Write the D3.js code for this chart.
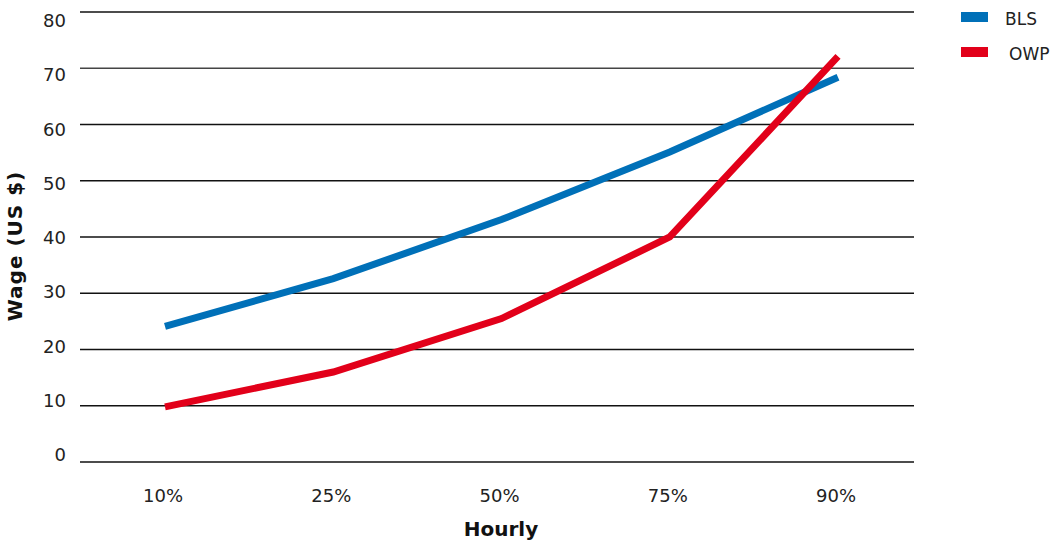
<!DOCTYPE html>
<html><head><meta charset="utf-8">
<script src="https://cdn.jsdelivr.net/npm/d3@7"></script>
<style>body{margin:0;background:#fff;} text{font-family:"DejaVu Sans",sans-serif;}</style>
</head><body><svg id="c" width="1058" height="542"></svg>
<script>
const categories = ["10%","25%","50%","75%","90%"];
const blsValues = [24.1, 32.6, 43.1, 55.1, 68.4];
const owpValues = [9.8, 16.0, 25.5, 40.0, 72.1];
const yTicks = [0,10,20,30,40,50,60,70,80];
const seriesNames = ["BLS","OWP"];
const colors = ["#0070b8","#e2001a"];

const svg = d3.select("#c");
const x = d3.scalePoint().domain(categories).range([165, 838]);
const y = d3.scaleLinear().domain([0,80]).range([462, 12]);
const yLabel = d3.scaleLinear().domain([0,80]).range([461, 27]);

// gridlines
svg.append("g").selectAll("line").data(yTicks).join("line")
  .attr("x1",80).attr("x2",914).attr("y1",d=>y(d)).attr("y2",d=>y(d))
  .attr("stroke",d=>d===70?"#444":"#111").attr("stroke-width",1.3);

// y labels
svg.append("g").selectAll("text").data(yTicks).join("text")
  .attr("x",66).attr("y",d=>yLabel(d)).attr("text-anchor","end")
  .attr("font-size",18).attr("fill","#222").text(d=>d);

// x labels
svg.append("g").selectAll("text").data(categories).join("text")
  .attr("x",d=>x(d)-2).attr("y",502).attr("text-anchor","middle")
  .attr("font-size",18).attr("fill","#222").text(d=>d);

// axis titles
svg.append("text").attr("x",501).attr("y",536).attr("text-anchor","middle")
  .attr("font-size",20).attr("font-weight","bold").attr("fill","#111").text("Hourly");
svg.append("text").attr("transform","translate(22,246) rotate(-90)").attr("text-anchor","middle")
  .attr("font-size",20).attr("font-weight","bold").attr("letter-spacing",1).attr("fill","#111").text("Wage (US $)");

// lines
const line = d3.line().x((d,i)=>x(categories[i])).y(d=>y(d));
[blsValues, owpValues].forEach((vals,i)=>{
  svg.append("path").attr("d",line(vals)).attr("fill","none")
    .attr("stroke",colors[i]).attr("stroke-width",7).attr("stroke-linejoin","miter").attr("stroke-linecap","butt");
});

// legend
seriesNames.forEach((n,i)=>{
  svg.append("rect").attr("x",961).attr("y",12+i*35).attr("width",27).attr("height",10).attr("fill",colors[i]);
  svg.append("text").attr("x",1005+(i?4:0)).attr("y",25+i*35).attr("font-size",17).attr("fill","#222").text(n);
});
</script></body></html>
